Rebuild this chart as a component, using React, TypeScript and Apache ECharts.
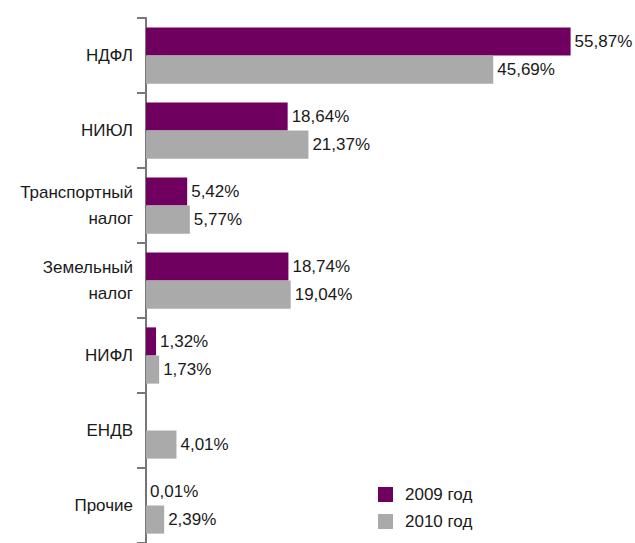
import React, { useEffect, useRef } from "react";
import * as echarts from "echarts";

const categories = ["НДФЛ", "НИЮЛ", "Транспортный\nналог", "Земельный\nналог", "НИФЛ", "ЕНДВ", "Прочие"];
const values2009: (number | null)[] = [55.87, 18.64, 5.42, 18.74, 1.32, null, 0.01];
const values2010: number[] = [45.69, 21.37, 5.77, 19.04, 1.73, 4.01, 2.39];
const seriesNames = ["2009 год", "2010 год"];

const FONT = "'Liberation Sans', Arial, sans-serif";

export default function App() {
  const ref = useRef<HTMLDivElement>(null);
  useEffect(() => {
    if (!ref.current) return;
    const chart = echarts.init(ref.current, null, { renderer: "svg" });
    const fmt = (p: any) => (p.value == null ? "" : Number(p.value).toFixed(2).replace(".", ",") + "%");
    const label = {
      show: true,
      position: "right",
      distance: 4,
      formatter: fmt,
      color: "#1a1a1a",
      fontSize: 17,
      fontFamily: FONT,
    };
    chart.setOption({
      animation: false,
      backgroundColor: "#ffffff",
      grid: { left: 146, top: 18, right: 33, height: 529 },
      legend: {
        orient: "vertical",
        left: 378,
        top: 486,
        padding: 0,
        icon: "rect",
        itemWidth: 15,
        itemHeight: 15,
        itemGap: 10,
        textStyle: { fontSize: 17, fontFamily: FONT, color: "#1a1a1a", padding: [0, 0, 0, 7] },
        data: seriesNames,
      },
      xAxis: { type: "value", min: 0, max: 60, show: false },
      yAxis: {
        type: "category",
        inverse: true,
        data: categories,
        axisLine: { show: true, lineStyle: { color: "#777777", width: 2 } },
        axisTick: { show: true, length: 9, lineStyle: { color: "#777777", width: 2 } },
        axisLabel: {
          fontSize: 17,
          fontFamily: FONT,
          color: "#1a1a1a",
          margin: 13,
          lineHeight: 26,
        },
        splitLine: { show: false },
      },
      series: [
        {
          name: seriesNames[0],
          type: "bar",
          data: values2009,
          barGap: "0%",
          barCategoryGap: "25%",
          itemStyle: { color: "#700060" },
          label,
        },
        {
          name: seriesNames[1],
          type: "bar",
          data: values2010,
          barGap: "0%",
          barCategoryGap: "25%",
          itemStyle: { color: "#aaaaaa" },
          label,
        },
      ],
    });
    return () => chart.dispose();
  }, []);
  return (
    <div
      ref={ref}
      style={{ position: "absolute", left: 0, top: 0, width: 635, height: 543 }}
    />
  );
}
